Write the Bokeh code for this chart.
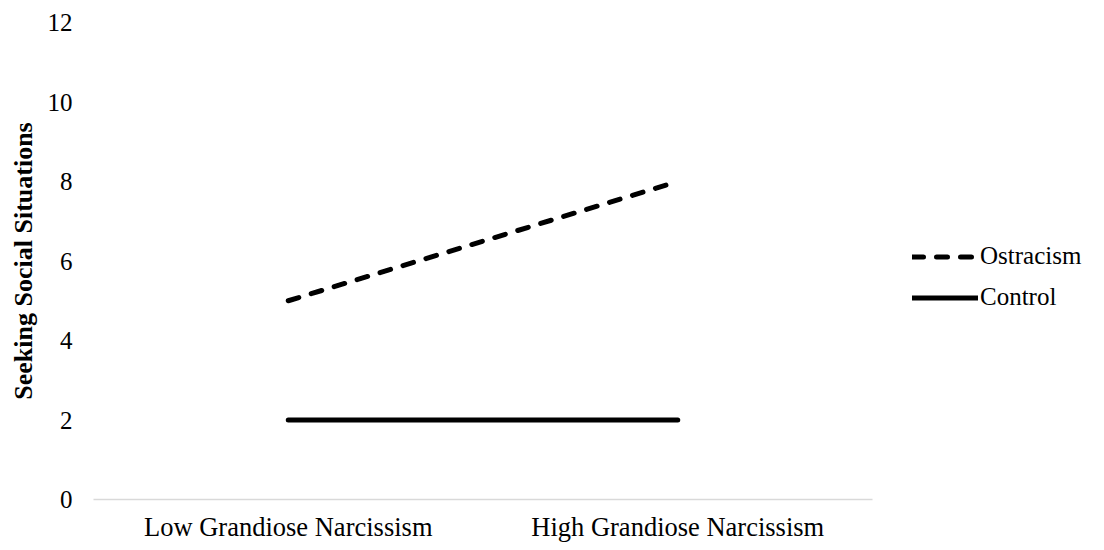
from bokeh.plotting import figure
from bokeh.models import Range1d, FactorRange, Legend, LegendItem
from bokeh.embed import file_html
from bokeh.resources import INLINE

categories = ["Low Grandiose Narcissism", "High Grandiose Narcissism"]
ostracism = [5, 8]
control = [2, 2]
y_ticks = [0, 2, 4, 6, 8, 10, 12]

FONT = "Liberation Serif"

p = figure(frame_width=779, frame_height=477, output_backend="svg", toolbar_location=None,
           x_range=FactorRange(*categories, range_padding=0),
           y_range=Range1d(0, 12),
           min_border_left=93, min_border_right=0, min_border_top=22, min_border_bottom=40)
p.outline_line_color = None
p.xgrid.grid_line_color = None
p.ygrid.grid_line_color = None

r1 = p.line(categories, ostracism, line_color="black", line_width=5,
            line_dash="11 13", line_cap="round")
r2 = p.line(categories, control, line_color="black", line_width=5, line_cap="round")

p.yaxis.ticker = y_ticks
p.yaxis.axis_line_color = None
p.yaxis.major_tick_line_color = None
p.yaxis.minor_tick_line_color = None
p.yaxis.major_label_text_font = FONT
p.yaxis.major_label_text_font_size = "25px"
p.yaxis.major_label_text_color = "black"
p.yaxis.major_label_standoff = 15
p.yaxis.axis_label = "Seeking Social Situations"
p.yaxis.axis_label_text_font = FONT
p.yaxis.axis_label_text_font_size = "26px"
p.yaxis.axis_label_text_font_style = "bold"
p.yaxis.axis_label_text_color = "black"
p.yaxis.axis_label_standoff = 7

p.xaxis.axis_line_color = "#d9d9d9"
p.xaxis.axis_line_width = 1.5
p.xaxis.major_tick_line_color = None
p.xaxis.minor_tick_line_color = None
p.xaxis.major_label_text_font = FONT
p.xaxis.major_label_text_font_size = "26.5px"
p.xaxis.major_label_text_color = "black"
p.xaxis.major_label_standoff = 6

legend = Legend(items=[LegendItem(label="Ostracism", renderers=[r1]),
                       LegendItem(label="Control", renderers=[r2])],
                location=(40, 188), border_line_color=None, background_fill_alpha=0,
                padding=0, margin=0, spacing=13, glyph_width=66, glyph_height=25,
                label_height=25, label_standoff=2,
                label_text_font=FONT, label_text_font_size="25px", label_text_color="black")
p.add_layout(legend, "right")

open("out.html", "w").write(file_html(p, INLINE))
